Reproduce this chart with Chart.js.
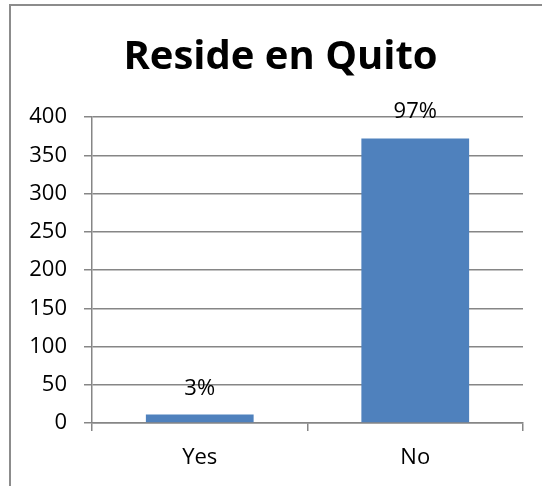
<!DOCTYPE html>
<html>
<head>
<meta charset="utf-8">
<script src="https://cdn.jsdelivr.net/npm/chart.js@4"></script>
<style>
  html, body { margin: 0; padding: 0; background: #fff; }
  #wrap { position: relative; width: 542px; height: 486px; overflow: hidden; }
  #frame { position: absolute; left: 9px; top: 4px; width: 700px; height: 700px; border: 2px solid #8c8c8c; box-sizing: border-box; }
  canvas { position: absolute; left: 0; top: 0; }
</style>
</head>
<body>
<div id="wrap">
  <div id="frame"></div>
  <canvas id="c" width="542" height="486"></canvas>
</div>
<script>
const titleText = "Reside en Quito";
const categories = ["Yes", "No"];
const counts = [11, 372];
const percentLabels = ["3%", "97%"];
const yTicks = [0, 50, 100, 150, 200, 250, 300, 350, 400];

const FONT = "'Open Sans', 'Liberation Sans', sans-serif";
const GRID = "#868686";

const dataLabelPlugin = {
  id: "dataLabels",
  afterLayout(chart) {
    const t = chart.titleBlock;
    if (t) { t.left += 19; t.right += 19; }
  },
  afterDatasetsDraw(chart) {
    const ctx = chart.ctx;
    const meta = chart.getDatasetMeta(0);
    ctx.save();
    ctx.font = "22px " + FONT;
    ctx.fillStyle = "#000";
    ctx.textAlign = "center";
    ctx.textBaseline = "alphabetic";
    meta.data.forEach((bar, i) => {
      ctx.fillText(percentLabels[i], bar.x, bar.y - 20);
    });
    ctx.restore();
  }
};

new Chart(document.getElementById("c"), {
  type: "bar",
  data: {
    labels: categories,
    datasets: [{
      data: counts,
      backgroundColor: "#4F81BD",
      borderWidth: 0,
      categoryPercentage: 1.0,
      barPercentage: 0.5
    }]
  },
  options: {
    responsive: false,
    animation: false,
    devicePixelRatio: 1,
    layout: { padding: { left: 0, right: 19, top: 0, bottom: 0 } },
    plugins: {
      legend: { display: false },
      tooltip: { enabled: false },
      title: {
        display: true,
        text: titleText,
        color: "#000",
        font: { family: FONT, size: 40, weight: "bold", lineHeight: 1.2 },
        padding: { top: 34, bottom: 35 }
      }
    },
    scales: {
      x: {
        offset: true,
        grid: { display: true, drawOnChartArea: false, offset: true, color: GRID, tickLength: 8, lineWidth: 1.5 },
        border: { display: true, color: GRID, width: 1.5 },
        ticks: { color: "#000", font: { family: FONT, size: 22 }, padding: 14 },
        afterFit(scale) { scale.height = 63; }
      },
      y: {
        min: 0,
        max: 400,
        afterBuildTicks(scale) { scale.ticks = yTicks.map(v => ({ value: v })); },
        grid: { color: GRID, tickLength: 8, lineWidth: 1.5 },
        border: { display: true, color: GRID, width: 1.5 },
        ticks: { color: "#000", font: { family: FONT, size: 22 }, padding: 17 },
        afterFit(scale) { scale.width = 92; }
      }
    }
  },
  plugins: [dataLabelPlugin]
});
</script>
</body>
</html>
